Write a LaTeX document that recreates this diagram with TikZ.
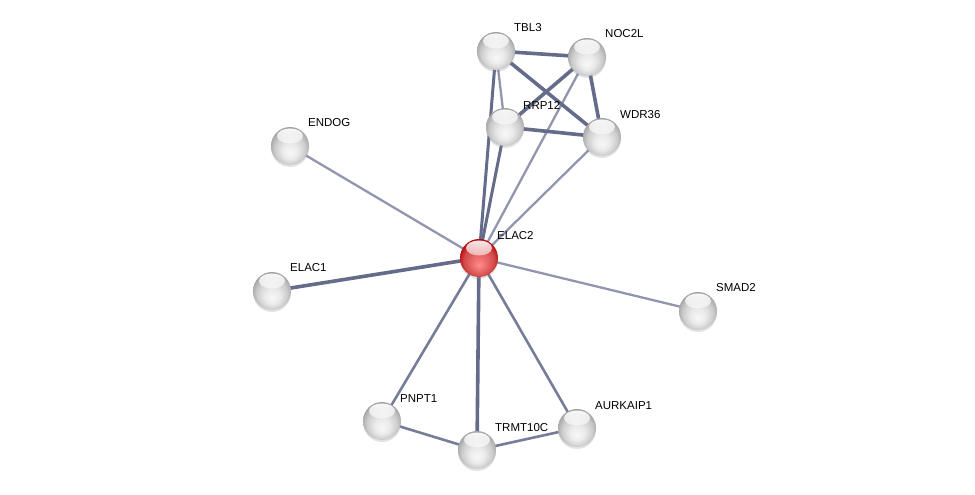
\documentclass[tikz,border=0pt]{standalone}
\usepackage{fontspec}
\setmainfont{Liberation Sans}
\usetikzlibrary{backgrounds,shadows,fadings}
\definecolor{edgedark}{RGB}{100,108,138}
\definecolor{edgemid}{RGB}{118,125,153}
\definecolor{edgelight}{RGB}{145,150,174}
\pgfdeclareradialshading{glossgray}{\pgfpoint{0bp}{-10bp}}{%
  color(0bp)=(white!97!black); color(10bp)=(white!92!black); color(20bp)=(white!80!black);
  color(28bp)=(white!62!black); color(35bp)=(white!52!black)}
\pgfdeclareradialshading{glossred}{\pgfpoint{0bp}{-10bp}}{%
  color(0bp)=(red!45!white); color(10bp)=(red!55!white!92!black); color(20bp)=(red!65!white!82!black);
  color(28bp)=(red!70!black); color(35bp)=(red!55!black)}
\tikzset{
  ballbase/.style={circle, minimum size=38pt, inner sep=0pt,
    drop shadow={shadow xshift=0pt, shadow yshift=-2pt, opacity=0.22},
    path picture={\fill[white,path fading=south,opacity=0.95] ([yshift=-9pt]path picture bounding box.north) ellipse (13pt and 7.5pt);}},
  gball/.style={ballbase, shading=glossgray},
  rball/.style={ballbase, shading=glossred},
  lbl/.style={anchor=west, inner sep=0pt, font=\fontsize{11.5}{13}\selectfont},
  ethick/.style={draw=edgedark, line width=3.6pt},
  emed/.style={draw=edgedark, line width=3pt},
  emidl/.style={draw=edgemid, line width=2.6pt},
  ethin/.style={draw=edgelight, line width=2.3pt},
}
\begin{document}
\begin{tikzpicture}[x=1pt,y=-1pt]
\useasboundingbox (0,0) rectangle (975,495);
% nodes
\node[gball] (tbl3) at (496,51) {};
\node[gball] (noc2l) at (587,57) {};
\node[gball] (rrp12) at (505,127) {};
\node[gball] (wdr36) at (602,137) {};
\node[gball] (endog) at (290,146) {};
\node[rball] (elac2) at (479,258) {};
\node[gball] (elac1) at (272,291) {};
\node[gball] (smad2) at (698,311) {};
\node[gball] (pnpt1) at (382,421) {};
\node[gball] (trmt) at (477,450) {};
\node[gball] (aurk) at (577,428) {};
% labels
\node[lbl] (tbl3l) at (514,28) {TBL3};
\node[lbl] (noc2ll) at (605,34) {NOC2L};
\node[lbl] (rrp12l) at (523,105) {RRP12};
\node[lbl] (wdr36l) at (620,115) {WDR36};
\node[lbl] (endogl) at (308,123) {ENDOG};
\node[lbl] (elac2l) at (497,236) {ELAC2};
\node[lbl] (elac1l) at (290,268) {ELAC1};
\node[lbl] (smad2l) at (716,288) {SMAD2};
\node[lbl] (pnpt1l) at (400,399) {PNPT1};
\node[lbl] (trmtl) at (495,428) {TRMT10C};
\node[lbl] (aurkl) at (595,406) {AURKAIP1};
% edges
\begin{scope}[on background layer]
\draw[ethin] (elac2.center) -- (endog.center);
\draw[ethick] (elac2.center) -- (elac1.center);
\draw[ethin] (elac2.center) -- (smad2.center);
\draw[emidl] (elac2.center) -- (pnpt1.center);
\draw[ethick] (elac2.center) -- (trmt.center);
\draw[emidl] (elac2.center) -- (aurk.center);
\draw[emed] (elac2.center) -- (tbl3.center);
\draw[emed] (elac2.center) -- (rrp12.center);
\draw[ethin] (elac2.center) -- (noc2l.center);
\draw[ethin] (elac2.center) -- (wdr36.center);
\draw[ethick] (tbl3.center) -- (noc2l.center);
\draw[ethick] (tbl3.center) -- (wdr36.center);
\draw[ethin] (tbl3.center) -- (rrp12.center);
\draw[ethick] (noc2l.center) -- (rrp12.center);
\draw[ethick] (noc2l.center) -- (wdr36.center);
\draw[ethick] (rrp12.center) -- (wdr36.center);
\draw[emidl] (pnpt1.center) -- (trmt.center);
\draw[emidl] (trmt.center) -- (aurk.center);
\end{scope}
\end{tikzpicture}
\end{document}
